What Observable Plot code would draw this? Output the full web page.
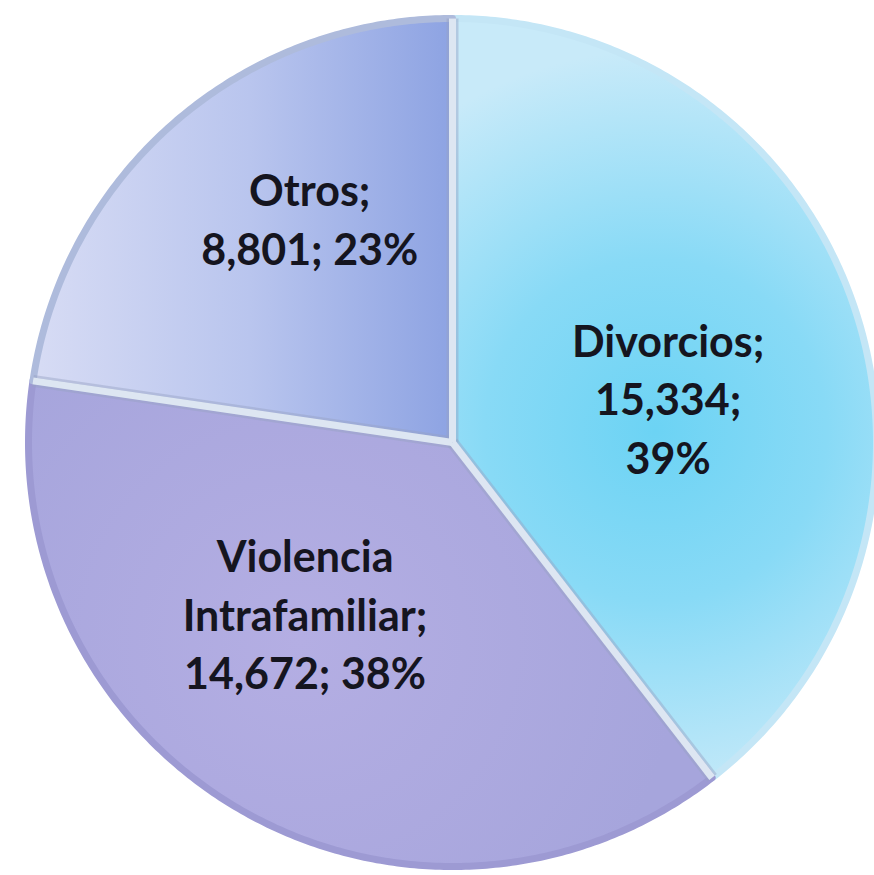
<!DOCTYPE html>
<html>
<head>
<meta charset="utf-8">
<script src="https://cdn.jsdelivr.net/npm/d3@7"></script>
<script src="https://cdn.jsdelivr.net/npm/@observablehq/plot@0.6"></script>
<style>
  html, body { margin: 0; padding: 0; background: #ffffff; }
  #chart { width: 874px; height: 875px; }
</style>
</head>
<body>
<div id="chart"></div>
<script>
// ---- data ----
const categories = ["Divorcios", "Violencia Intrafamiliar", "Otros"];
const values = [15334, 14672, 8801];
const percentLabels = ["39%", "38%", "23%"];
const labelLines = [
  ["Divorcios;", "15,334;", "39%"],
  ["Violencia", "Intrafamiliar;", "14,672; 38%"],
  ["Otros;", "8,801; 23%"]
];

// ---- layout / style ----
const W = 874, H = 875;
const CX = 452, CY = 442, R = 424;
const xDomain = [(0 - CX) / R, (W - CX) / R];
const yDomain = [(CY - H) / R, (CY - 0) / R];
const labelPlace = [ {r: 0.52, a: 78}, {r: 0.53, a: 221}, {r: 0.63, a: 327.7} ];
const fills = ["url(#gDiv)", "url(#gVio)", "url(#gOtr)"];
const rims = ["#c4e6f6", "#9d9ad3", "#aebbdc"];

const rows = categories.map((c, i) => ({category: c, value: values[i], pct: percentLabels[i], i}));
const arcs = d3.pie().sort(null).value(d => d.value)(rows);

const slicePts = arcs.map(a => {
  const pts = [{x: 0, y: 0, k: a.data.category}];
  const n = Math.max(8, Math.ceil((a.endAngle - a.startAngle) / 0.01));
  for (let j = 0; j <= n; j++) {
    const t = a.startAngle + (a.endAngle - a.startAngle) * j / n;
    pts.push({x: Math.sin(t), y: Math.cos(t), k: a.data.category});
  }
  pts.push({x: 0, y: 0, k: a.data.category});
  return pts;
});

const separators = arcs.map(a => ({x1: 0, y1: 0, x2: Math.sin(a.startAngle), y2: Math.cos(a.startAngle)}));

const labels = arcs.map((a, i) => {
  const p = labelPlace[i];
  const t = p.a * Math.PI / 180;
  return {x: p.r * Math.sin(t), y: p.r * Math.cos(t), text: labelLines[i].join("\n")};
});

const marks = [];
slicePts.forEach((pts, i) => {
  marks.push(Plot.line(pts, {x: "x", y: "y", fill: fills[i], stroke: rims[i], strokeWidth: 7, strokeLinejoin: "round", curve: "linear-closed"}));
});
marks.push(Plot.link(separators, {x1: "x1", y1: "y1", x2: "x2", y2: "y2", stroke: "#97a2c4", strokeWidth: 12, strokeOpacity: 0.45}));
marks.push(Plot.link(separators, {x1: "x1", y1: "y1", x2: "x2", y2: "y2", stroke: "#dde6f2", strokeWidth: 7}));
marks.push(Plot.text(labels, {x: "x", y: "y", text: "text", fontSize: 43, fontWeight: 700, fill: "#15151f", lineHeight: 1.36, lineAnchor: "middle", textAnchor: "middle"}));

const plot = Plot.plot({
  width: W, height: H,
  marginTop: 0, marginBottom: 0, marginLeft: 0, marginRight: 0,
  x: {domain: xDomain, axis: null},
  y: {domain: yDomain, axis: null},
  style: {fontFamily: "Lato, 'Open Sans', sans-serif", background: "#ffffff", overflow: "visible"},
  marks
});

// gradients
const svg = d3.select(plot);
const defs = svg.insert("defs", ":first-child");
const gd = defs.append("radialGradient").attr("id", "gDiv").attr("gradientUnits", "userSpaceOnUse")
  .attr("cx", 655).attr("cy", 430).attr("r", 380);
[[0, "#6cd3f4"], [0.45, "#88daf6"], [1, "#c8eaf9"]].forEach(([o, c]) => gd.append("stop").attr("offset", o).attr("stop-color", c));
const gv = defs.append("radialGradient").attr("id", "gVio").attr("gradientUnits", "userSpaceOnUse")
  .attr("cx", 300).attr("cy", 640).attr("r", 380);
[[0, "#b4aee3"], [1, "#a6a5dc"]].forEach(([o, c]) => gv.append("stop").attr("offset", o).attr("stop-color", c));
const go = defs.append("linearGradient").attr("id", "gOtr").attr("gradientUnits", "userSpaceOnUse")
  .attr("x1", 40).attr("y1", 0).attr("x2", 458).attr("y2", 0);
[[0, "#d6dbf4"], [0.5, "#b9c5ee"], [1, "#8ca2e2"]].forEach(([o, c]) => go.append("stop").attr("offset", o).attr("stop-color", c));

document.getElementById("chart").appendChild(plot);
</script>
</body>
</html>
